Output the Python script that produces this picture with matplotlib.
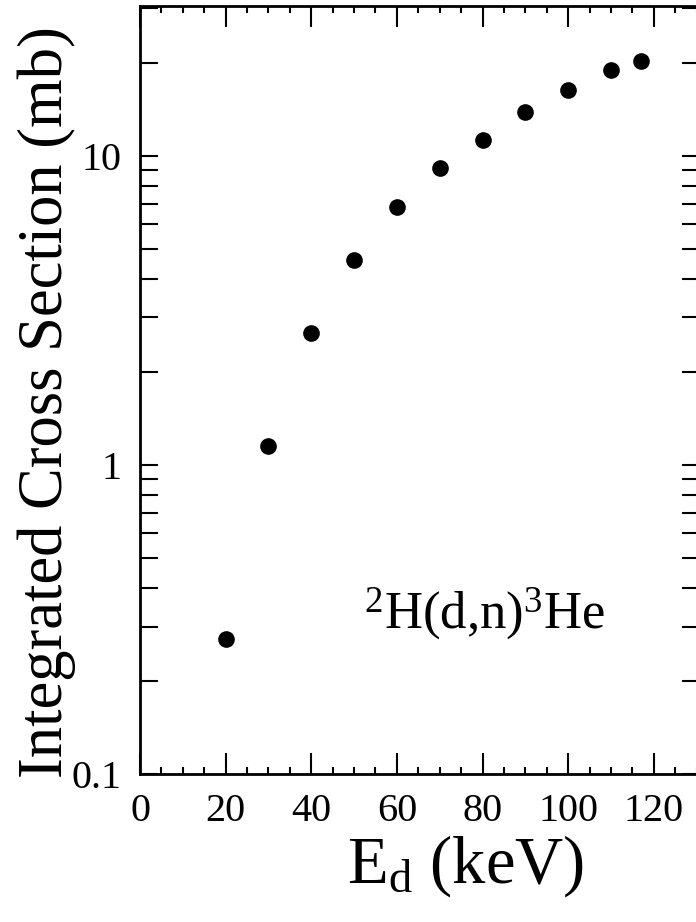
import numpy as np
import matplotlib
matplotlib.use("Agg")
import matplotlib.pyplot as plt
from matplotlib.ticker import FixedLocator, NullFormatter, MultipleLocator, LogLocator


energy = [20, 30, 40, 50, 60, 70, 80, 90, 100, 110, 117]
cross_section = [0.273, 1.155, 2.67, 4.61, 6.85, 9.12, 11.27, 13.85, 16.27, 18.97, 20.2]

x_ticks = [0, 20, 40, 60, 80, 100, 120]
y_ticks = [0.1, 1, 10]
y_tick_labels = ["0.1", "1", "10"]

plt.rcParams["font.family"] = ["Liberation Serif", "DejaVu Serif"]
plt.rcParams["mathtext.fontset"] = "custom"
plt.rcParams["mathtext.rm"] = "Liberation Serif"
plt.rcParams["mathtext.it"] = "Liberation Serif:italic"

W, H = 696, 922
fig = plt.figure(figsize=(W / 100, H / 100), dpi=100)

# axes box in pixels: left 140, right ~700 (just off the picture), top 6, bottom 774
ax = fig.add_axes([140 / W, (H - 774) / H, 560 / W, 768 / H])

ax.plot(energy, cross_section, "o", color="black", markersize=12, markeredgewidth=0)

ax.set_yscale("log")
ax.set_xlim(0, 130.8)
ax.set_ylim(0.1, 30.5)

ax.xaxis.set_major_locator(FixedLocator(x_ticks))
ax.xaxis.set_minor_locator(MultipleLocator(5))
ax.set_xticklabels([str(t) for t in x_ticks])

ax.yaxis.set_major_locator(FixedLocator(y_ticks))
ax.yaxis.set_minor_locator(LogLocator(base=10, subs=np.arange(2, 10)))
ax.yaxis.set_minor_formatter(NullFormatter())
ax.set_yticklabels(y_tick_labels)

for side in ["left", "right", "top", "bottom"]:
    ax.spines[side].set_linewidth(2)

ax.tick_params(axis="x", which="both", direction="in", top=True, bottom=True,
               labelsize=29, pad=14)
ax.tick_params(axis="x", which="major", length=15, width=1.5)
ax.tick_params(axis="x", which="minor", length=5, width=1.5)
ax.tick_params(axis="y", which="both", direction="in", left=True, right=True,
               labelsize=29, pad=13, length=13, width=1.5)

ax.text(80.5, 0.33, r"$^{2}$H(d,n)$^{3}$He", ha="center", va="center", fontsize=38)

fig.text(47 / W, 1 - 402 / H, "Integrated Cross Section (mb)", rotation=90,
         ha="center", va="center", fontsize=45)
fig.text(466 / W, 1 - 866 / H, r"E$_{\rm d}$ (keV)", ha="center", va="center",
         fontsize=48)

fig.savefig("out.png", dpi=100)
